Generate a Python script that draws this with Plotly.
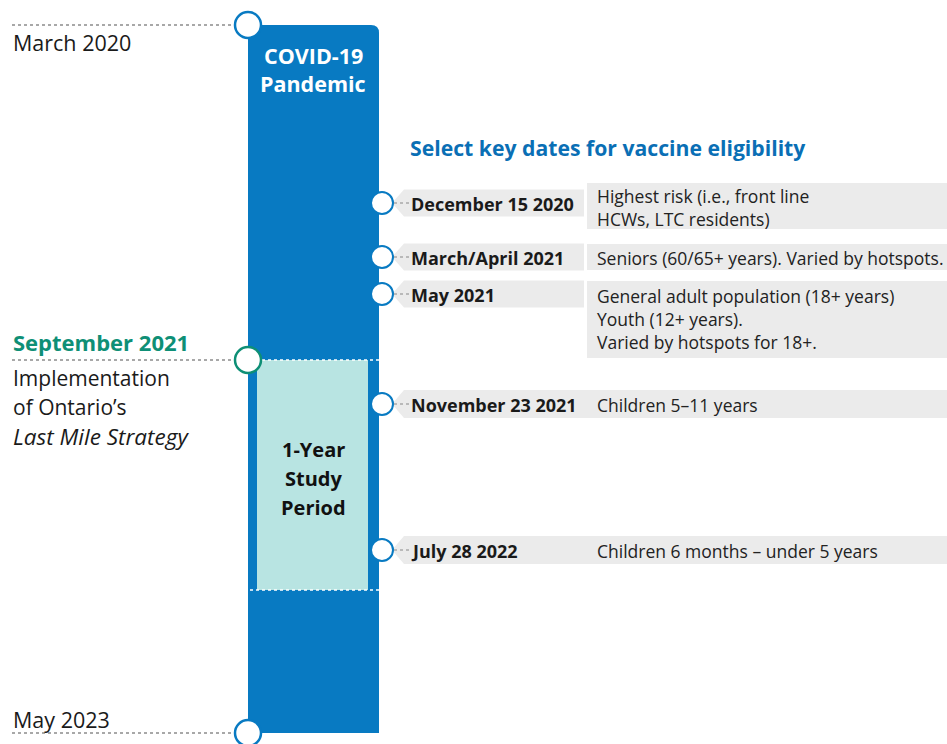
import plotly.graph_objects as go

# ---------------- data ----------------
milestone_dates = ["March 2020", "September 2021", "May 2023"]
milestone_note = ["Implementation", "of Ontario\u2019s", "<i>Last Mile Strategy</i>"]
bar_label = ["COVID-19", "Pandemic"]
study_label = ["1-Year", "Study", "Period"]
chart_title = "Select key dates for vaccine eligibility"
event_dates = ["December 15 2020", "March/April 2021", "May 2021",
               "November 23 2021", "July 28 2022"]
event_groups = [
    ["Highest risk (i.e., front line", "HCWs, LTC residents)"],
    ["Seniors (60/65+ years). Varied by hotspots."],
    ["General adult population (18+ years)", "Youth (12+ years).", "Varied by hotspots for 18+."],
    ["Children 5\u201311 years"],
    ["Children 6 months \u2013 under 5 years"],
]

# ---------------- layout constants ----------------
W, H = 947, 744
BLUE = "#087ac2"
TEAL = "#0e8f76"
LIGHT = "#b8e4e2"
GREY = "#ebebeb"
FONT = "Open Sans"

milestone_y = [25, 360, 733]
row_y = [203, 257, 294, 404, 550]
desc_box = [(183, 229), (244, 270), (281, 358), None, None]
desc_center = [207, 258, 318.5, 405, 551]
bar_x0, bar_x1 = 248, 379
study_x0, study_x1, study_y0, study_y1 = 257, 368, 360, 590

shapes = []
annotations = []

# main bar with rounded top-right corner
shapes.append(dict(type="path",
                   path=f"M {bar_x0},{milestone_y[0]} L {bar_x1-8},{milestone_y[0]} "
                        f"Q {bar_x1},{milestone_y[0]} {bar_x1},{milestone_y[0]+8} "
                        f"L {bar_x1},{milestone_y[2]} L {bar_x0},{milestone_y[2]} Z",
                   fillcolor=BLUE, line=dict(width=0)))
# study period box
shapes.append(dict(type="rect", x0=study_x0, x1=study_x1, y0=study_y0, y1=study_y1,
                   fillcolor=LIGHT, line=dict(width=0)))
for yy in (study_y0, study_y1):
    shapes.append(dict(type="line", x0=bar_x0 + 2, x1=bar_x1, y0=yy, y1=yy,
                       line=dict(color="white", width=1.5, dash="dot")))

# milestone dotted leaders + circles
for i, yy in enumerate(milestone_y):
    shapes.append(dict(type="line", x0=12, x1=234, y0=yy, y1=yy,
                       line=dict(color="#8c8c8c", width=1.5, dash="dot")))
    col = TEAL if i == 1 else BLUE
    shapes.append(dict(type="circle", x0=bar_x0 - 13, x1=bar_x0 + 13, y0=yy - 13, y1=yy + 13,
                       fillcolor="white", line=dict(color=col, width=2.5)))

# event banners
for i, yy in enumerate(row_y):
    if desc_box[i] is None:
        t, b = yy - 14, yy + 14
        shapes.append(dict(type="path",
                           path=f"M 392,{yy} L 404,{t} L {W},{t} L {W},{b} L 404,{b} Z",
                           fillcolor=GREY, line=dict(width=0)))
    else:
        t, b = yy - 13.5, yy + 13.5
        shapes.append(dict(type="path",
                           path=f"M 392,{yy} L 404,{t} L 584,{t} L 584,{b} L 404,{b} Z",
                           fillcolor=GREY, line=dict(width=0)))
        d0, d1 = desc_box[i]
        shapes.append(dict(type="rect", x0=587, x1=W, y0=d0, y1=d1,
                           fillcolor=GREY, line=dict(width=0)))
    shapes.append(dict(type="line", x0=394, x1=409, y0=yy, y1=yy,
                       line=dict(color="#888888", width=1.2, dash="dot")))
    shapes.append(dict(type="circle", x0=371, x1=393, y0=yy - 11, y1=yy + 11,
                       fillcolor="white", line=dict(color=BLUE, width=2)))

def txt(x, y, s, size, color="#1a1a1a", bold=False, xanchor="left"):
    if bold:
        s = f"<b>{s}</b>"
    annotations.append(dict(x=x, y=y, text=s, showarrow=False, xanchor=xanchor,
                            yanchor="middle", align=xanchor if xanchor != "center" else "center",
                            font=dict(family=FONT, size=size, color=color)))

# milestone labels
txt(11, 42, milestone_dates[0], 21.5)
txt(11, 342, milestone_dates[1], 22, TEAL, bold=True)
txt(11, 378, milestone_note[0], 21)
txt(11, 407, milestone_note[1], 21)
txt(11, 436, milestone_note[2], 22.5)
txt(11, 719, milestone_dates[2], 21.5)

# bar labels
for k, s in enumerate(bar_label):
    txt(313, 55 + 28 * k, s, 21.5, "white", bold=True, xanchor="center")
for k, s in enumerate(study_label):
    txt(313, 449 + 29 * k, s, 20, "#111111", bold=True, xanchor="center")

# title
txt(408, 147, chart_title, 21.2, "#0a6fb5", bold=True)

# event texts
for i, yy in enumerate(row_y):
    txt(409, yy + 1, event_dates[i], 18, "#1a1a1a", bold=True)
    annotations.append(dict(x=595, y=desc_center[i], text="<br>".join(event_groups[i]),
                            showarrow=False, xanchor="left", yanchor="middle", align="left",
                            font=dict(family=FONT, size=17.5, color="#222222")))

fig = go.Figure()
fig.add_trace(go.Scatter(x=[0, W], y=[0, H], mode="markers",
                         marker=dict(opacity=0), hoverinfo="skip", showlegend=False))
fig.update_layout(width=W, height=H, autosize=False,
                  margin=dict(l=0, r=0, t=0, b=0),
                  paper_bgcolor="white", plot_bgcolor="white",
                  xaxis=dict(range=[0, W], visible=False, fixedrange=True),
                  yaxis=dict(range=[H, 0], visible=False, fixedrange=True),
                  shapes=shapes, annotations=annotations, showlegend=False)
fig.write_html("out.html", config={"displayModeBar": False},
               post_script="document.body.style.margin='0px';document.body.style.padding='0px';")
